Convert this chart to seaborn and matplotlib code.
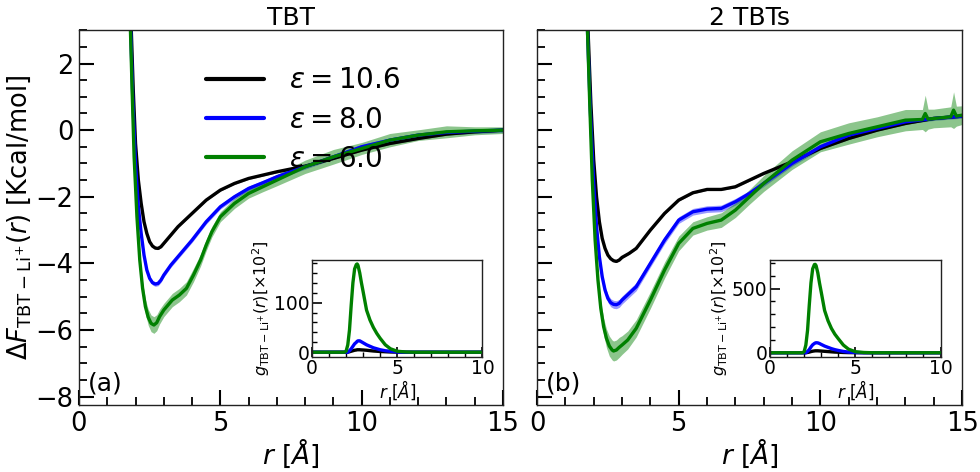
import numpy as np
import pandas as pd
import matplotlib
matplotlib.use("Agg")
import matplotlib.pyplot as plt
from matplotlib.ticker import MultipleLocator
import seaborn as sns

# ---- free energy profiles, panel (a) TBT ----
r_a_k = [1.78, 1.85, 1.92, 2.0, 2.1, 2.2, 2.3, 2.4, 2.5, 2.6, 2.7, 2.8, 2.9, 3.0, 3.25, 3.5, 4.0, 4.5, 5.0, 5.5, 6.0, 6.5, 7.0, 8.0, 9.0, 10.0, 11.0, 12.0, 13.0, 14.0, 15.0]
F_a_k = [4.5, 3.0, 1.2, -0.4, -1.5, -2.2, -2.75, -3.1, -3.35, -3.48, -3.54, -3.55, -3.5, -3.4, -3.15, -2.9, -2.5, -2.1, -1.8, -1.6, -1.45, -1.35, -1.25, -1.08, -0.85, -0.6, -0.4, -0.25, -0.12, -0.05, 0.0]
r_a_b = [1.76, 1.83, 1.9, 2.0, 2.1, 2.2, 2.3, 2.4, 2.5, 2.6, 2.7, 2.8, 2.9, 3.0, 3.25, 3.5, 4.0, 4.5, 5.0, 5.5, 6.0, 6.5, 7.0, 8.0, 9.0, 10.0, 11.0, 12.0, 13.0, 14.0, 15.0]
F_a_b = [4.5, 3.0, 1.0, -1.0, -2.3, -3.1, -3.75, -4.2, -4.45, -4.58, -4.62, -4.6, -4.5, -4.35, -4.05, -3.8, -3.3, -2.75, -2.3, -2.0, -1.75, -1.58, -1.4, -1.1, -0.8, -0.5, -0.3, -0.15, -0.07, -0.03, 0.0]
r_a_g = [1.75, 1.82, 1.88, 1.95, 2.05, 2.15, 2.25, 2.35, 2.45, 2.55, 2.65, 2.75, 2.85, 3.0, 3.15, 3.3, 3.55, 3.8, 4.05, 4.3, 4.5, 4.7, 5.0, 5.5, 6.0, 6.5, 7.0, 8.0, 9.0, 10.0, 11.0, 12.0, 13.0, 14.0, 15.0]
F_a_g = [4.5, 3.0, 1.2, -0.8, -2.6, -3.9, -4.75, -5.3, -5.62, -5.8, -5.85, -5.78, -5.6, -5.4, -5.25, -5.1, -4.95, -4.75, -4.35, -3.9, -3.45, -3.05, -2.6, -2.2, -1.9, -1.7, -1.5, -1.1, -0.8, -0.55, -0.3, -0.15, -0.05, -0.02, 0.0]
w_a_g = [0.1, 0.1, 0.12, 0.14, 0.16, 0.18, 0.2, 0.22, 0.24, 0.25, 0.25, 0.24, 0.22, 0.2, 0.2, 0.2, 0.2, 0.2, 0.2, 0.18, 0.17, 0.16, 0.15, 0.15, 0.14, 0.15, 0.17, 0.2, 0.22, 0.18, 0.2, 0.16, 0.18, 0.12, 0.1]

# ---- free energy profiles, panel (b) 2 TBTs ----
r_b_k = [1.72, 1.8, 1.9, 2.0, 2.1, 2.2, 2.3, 2.4, 2.5, 2.6, 2.7, 2.8, 2.9, 3.0, 3.25, 3.5, 4.0, 4.5, 5.0, 5.5, 6.0, 6.5, 7.0, 7.5, 8.0, 9.0, 10.0, 11.0, 12.0, 13.0, 14.0, 15.0]
F_b_k = [4.5, 3.0, 0.8, -0.9, -2.0, -2.75, -3.25, -3.55, -3.75, -3.86, -3.92, -3.94, -3.9, -3.82, -3.7, -3.55, -3.0, -2.5, -2.1, -1.88, -1.78, -1.78, -1.7, -1.5, -1.3, -0.95, -0.55, -0.25, 0.0, 0.2, 0.35, 0.42]
r_b_b = [1.7, 1.78, 1.88, 2.0, 2.1, 2.2, 2.3, 2.4, 2.5, 2.6, 2.7, 2.8, 2.9, 3.0, 3.25, 3.5, 4.0, 4.5, 5.0, 5.5, 6.0, 6.5, 7.0, 7.5, 8.0, 9.0, 10.0, 11.0, 12.0, 13.0, 14.0, 15.0]
F_b_b = [4.5, 3.0, 0.6, -1.6, -2.9, -3.8, -4.4, -4.8, -5.05, -5.18, -5.23, -5.24, -5.2, -5.1, -4.9, -4.7, -4.0, -3.3, -2.7, -2.45, -2.37, -2.35, -2.15, -1.9, -1.6, -1.0, -0.5, -0.15, 0.05, 0.25, 0.35, 0.42]
w_b_b = [0.05, 0.05, 0.06, 0.07, 0.08, 0.09, 0.1, 0.11, 0.12, 0.12, 0.12, 0.12, 0.12, 0.12, 0.12, 0.12, 0.11, 0.11, 0.1, 0.1, 0.1, 0.1, 0.1, 0.09, 0.09, 0.08, 0.08, 0.07, 0.07, 0.06, 0.06, 0.06]
r_b_g = [1.7, 1.78, 1.86, 1.95, 2.05, 2.15, 2.25, 2.35, 2.45, 2.55, 2.65, 2.7, 2.8, 2.9, 3.0, 3.2, 3.5, 4.0, 4.5, 5.0, 5.5, 6.0, 6.5, 7.0, 7.5, 8.0, 9.0, 10.0, 11.0, 12.0, 13.0, 13.6, 13.7, 13.8, 14.0, 14.6, 14.7, 14.8, 15.0]
F_b_g = [4.5, 3.0, 0.8, -1.5, -3.3, -4.5, -5.35, -5.9, -6.25, -6.48, -6.6, -6.63, -6.6, -6.52, -6.45, -6.3, -5.95, -5.1, -4.2, -3.4, -2.95, -2.8, -2.7, -2.4, -2.0, -1.6, -0.9, -0.35, -0.1, 0.1, 0.3, 0.32, 0.5, 0.33, 0.35, 0.4, 0.6, 0.42, 0.45]
w_b_g = [0.1, 0.1, 0.12, 0.15, 0.18, 0.2, 0.22, 0.25, 0.28, 0.3, 0.3, 0.3, 0.3, 0.3, 0.28, 0.27, 0.26, 0.25, 0.24, 0.22, 0.2, 0.2, 0.22, 0.22, 0.22, 0.24, 0.28, 0.3, 0.32, 0.3, 0.32, 0.3, 0.55, 0.3, 0.28, 0.3, 0.55, 0.3, 0.28]

# ---- inset g(r) ----
r_g = [0.0, 1.9, 2.0, 2.1, 2.2, 2.3, 2.4, 2.5, 2.6, 2.65, 2.7, 2.8, 2.9, 3.0, 3.2, 3.4, 3.6, 3.8, 4.0, 4.3, 4.6, 5.0, 5.5, 6.0, 10.0]
g_a_g = [0, 0, 2, 15, 45, 95, 140, 168, 177, 178, 175, 160, 140, 122, 85, 65, 50, 38, 28, 15, 7, 2, 0.5, 0, 0]
g_a_b = [0, 0, 0, 0, 3, 7, 12, 17, 20, 22, 23, 23, 21, 19, 15, 12, 9, 7, 5, 3, 2, 0.5, 0, 0, 0]
g_a_k = [0, 0, 0, 0, 1, 2, 3, 4, 4.5, 5, 5, 5, 4.7, 4.5, 4, 3.2, 2.5, 2, 1.5, 1, 0.5, 0.2, 0, 0, 0]
g_b_g = [0, 0, 8, 60, 175, 370, 545, 655, 688, 690, 680, 625, 545, 475, 330, 250, 190, 145, 110, 60, 28, 8, 2, 0, 0]
g_b_b = [0, 0, 0, 0, 10, 25, 45, 62, 72, 76, 78, 77, 72, 65, 52, 42, 32, 24, 18, 10, 5, 2, 0, 0, 0]
g_b_k = [0, 0, 0, 0, 2, 5, 9, 12, 14, 15, 15, 15, 14, 13, 11, 9, 7, 5, 4, 2, 1, 0.5, 0, 0, 0]

labels = [r"$\varepsilon = 10.6$", r"$\varepsilon = 8.0$", r"$\varepsilon = 6.0$"]
colors = ["black", "blue", "green"]

sns.set_style("ticks")
plt.rcParams["font.family"] = ["DejaVu Sans"]
plt.rcParams["mathtext.fontset"] = "dejavusans"
for key in ["text.color", "axes.labelcolor", "xtick.color", "ytick.color", "axes.edgecolor"]:
    plt.rcParams[key] = "black"


def long_df(pairs):
    rows = []
    for lab, (r, F) in zip(labels, pairs):
        rows.append(pd.DataFrame({"r": r, "F": F, "eps": lab}))
    return pd.concat(rows, ignore_index=True)


def style_axis(ax, big=True):
    if big:
        ax.tick_params(which="major", direction="in", length=11, width=1.5, labelsize=18.5,
                       top=False, right=False, pad=4)
        ax.tick_params(which="minor", direction="in", length=6, width=1.3,
                       top=False, right=False)
    else:
        ax.tick_params(which="major", direction="in", length=7, width=1.2, labelsize=13.5,
                       top=False, right=False, pad=2)
        ax.tick_params(which="minor", direction="in", length=3.5, width=1.0,
                       top=False, right=False)
    for s in ax.spines.values():
        s.set_linewidth(1.0)
        s.set_color("#222222")


fig = plt.figure(figsize=(9.8, 4.72), dpi=100)
ax1 = fig.add_axes([0.0806, 0.142, 0.4327, 0.794])
ax2 = fig.add_axes([0.548, 0.142, 0.4337, 0.794], sharey=ax1)

panels = [
    (ax1, [(r_a_k, F_a_k), (r_a_b, F_a_b), (r_a_g, F_a_g)], [0.03, 0.07, None], w_a_g, "TBT", "(a)",
     [g_a_k, g_a_b, g_a_g], (-9, 186), 100, 20),
    (ax2, [(r_b_k, F_b_k), (r_b_b, F_b_b), (r_b_g, F_b_g)], [0.03, None, None], w_b_g, "2 TBTs", "(b)",
     [g_b_k, g_b_b, g_b_g], (-31, 724), 500, 100),
]

for ax, curves, const_w, gw, title, tag, gcurves, gylim, gmaj, gmin in panels:
    # uncertainty bands
    for i, ((r, F), c) in enumerate(zip(curves, colors)):
        F = np.asarray(F)
        if c == "green":
            w = np.asarray(gw)
        elif c == "blue" and const_w[i] is None:
            w = np.asarray(w_b_b)
        else:
            w = const_w[i]
        ax.fill_between(r, F - w, F + w, color=c, alpha=0.45 if c == "green" else 0.4,
                        linewidth=0, zorder=1)
    df = long_df(curves)
    sns.lineplot(data=df, x="r", y="F", hue="eps", palette=colors, linewidth=2.4,
                 sort=False, estimator=None, ax=ax, legend=(ax is ax1), zorder=2)
    ax.set_xlim(0, 15)
    ax.set_ylim(-8.25, 3)
    ax.xaxis.set_major_locator(MultipleLocator(5))
    ax.xaxis.set_minor_locator(MultipleLocator(1))
    ax.yaxis.set_major_locator(MultipleLocator(2))
    ax.yaxis.set_minor_locator(MultipleLocator(0.5))
    style_axis(ax)
    ax.set_title(title, fontsize=18, pad=3)
    ax.set_xlabel(r"$r\ [\AA]$", fontsize=19, labelpad=0)
    ax.text(0.3, -7.6, tag, fontsize=18, ha="left", va="center")

    # inset
    pos = ax.get_position()
    ins = fig.add_axes([pos.x0 + (312 - 79) / 980, 1 - 356.7 / 472, 170.5 / 980, 96.7 / 472])
    gdf = pd.concat([pd.DataFrame({"r": r_g, "g": g, "eps": lab})
                     for lab, g in zip(labels, gcurves)], ignore_index=True)
    sns.lineplot(data=gdf, x="r", y="g", hue="eps", palette=colors, linewidth=2.4,
                 sort=False, estimator=None, ax=ins, legend=False)
    ins.set_xlim(0, 10)
    ins.set_ylim(*gylim)
    ins.xaxis.set_major_locator(MultipleLocator(5))
    ins.xaxis.set_minor_locator(MultipleLocator(1))
    ins.yaxis.set_major_locator(MultipleLocator(gmaj))
    ins.yaxis.set_minor_locator(MultipleLocator(gmin))
    style_axis(ins, big=False)
    ins.set_xlabel(r"$r\ [\AA]$", fontsize=12, labelpad=0)
    ins.set_ylabel(r"$g_{\rm TBT-Li^{+}}(r) [\times 10^2]$", fontsize=11.5, labelpad=1)

ax1.set_ylabel(r"$\Delta F_{\rm TBT-Li^{+}}(r)$ [Kcal/mol]", fontsize=18.5, labelpad=2)
ax2.set_ylabel("")
plt.setp(ax2.get_yticklabels(), visible=False)

leg = ax1.legend(loc="upper left", bbox_to_anchor=(0.24, 0.97), frameon=False, fontsize=20,
                 handlelength=2.1, handletextpad=0.9, labelspacing=0.4)
for h in leg.get_lines():
    h.set_linewidth(3)

fig.savefig("out.png", dpi=100)
